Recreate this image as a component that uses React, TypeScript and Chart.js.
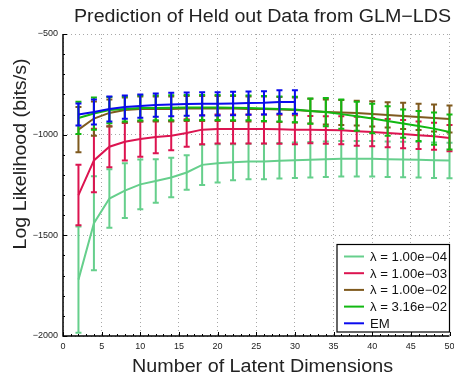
import React, { useEffect, useRef } from "react";
import { Chart, registerables } from "chart.js";

Chart.register(...registerables);

const dims = [2, 4, 6, 8, 10, 12, 14, 16, 18, 20, 22, 24, 26, 28, 30, 32, 34, 36, 38, 40, 42, 44, 46, 48, 50];

const lam1e4 = [-1720, -1440, -1317, -1278, -1247, -1230, -1213, -1188, -1150, -1142, -1137, -1133, -1133, -1130, -1127, -1125, -1122, -1120, -1120, -1120, -1122, -1123, -1125, -1127, -1128];
const lam1e4Err = [264, 233, 145, 136, 124, 108, 98, 86, 100, 95, 90, 88, 88, 88, 88, 88, 88, 88, 88, 88, 88, 88, 88, 88, 88];

const lam1e3 = [-1300, -1128, -1060, -1035, -1022, -1012, -1005, -992, -975, -972, -972, -972, -972, -973, -975, -975, -977, -978, -983, -987, -992, -997, -1003, -1008, -1017];
const lam1e3Err = [150, 158, 102, 93, 88, 80, 73, 68, 72, 72, 72, 72, 72, 72, 72, 68, 68, 70, 72, 70, 70, 70, 68, 67, 65];

const lam1e2 = [-975, -920, -892, -878, -873, -872, -872, -870, -870, -870, -870, -872, -873, -875, -878, -883, -887, -890, -893, -897, -902, -907, -912, -917, -922];
const lam1e2Err = [112, 85, 67, 62, 62, 62, 62, 62, 62, 62, 62, 62, 62, 62, 62, 62, 62, 62, 62, 63, 63, 65, 65, 67, 67];

const lam316e2 = [-917, -895, -878, -872, -868, -867, -866, -865, -865, -865, -866, -867, -870, -872, -875, -883, -888, -898, -908, -920, -932, -945, -957, -970, -987];
const lam316e2Err = [80, 80, 65, 62, 62, 62, 62, 62, 62, 62, 62, 62, 62, 62, 63, 63, 70, 73, 72, 73, 73, 70, 75, 80, 87];

const emDims = [2, 4, 6, 8, 10, 12, 14, 16, 18, 20, 22, 24, 26, 28, 30];
const em = [-900, -887, -872, -863, -858, -853, -850, -848, -847, -847, -845, -843, -842, -838, -838];
const emErr = [55, 62, 62, 58, 58, 58, 58, 58, 58, 58, 58, 58, 58, 58, 58];

const seriesLabels = ["λ = 1.00e−04", "λ = 1.00e−03", "λ = 1.00e−02", "λ = 3.16e−02", "EM"];
const seriesColors = ["#66cf8c", "#dc1450", "#7f5a1e", "#12b812", "#0a0aee"];

const xTicks = [0, 5, 10, 15, 20, 25, 30, 35, 40, 45, 50];
const yTicks = [-2000, -1500, -1000, -500];

const titleText = "Prediction of Held out Data from GLM−LDS";
const xTitle = "Number of Latent Dimensions";
const yTitle = "Log Likelihood (bits/s)";

const FONT = '"Liberation Sans", Arial, Helvetica, sans-serif';

function fitText(ctx: CanvasRenderingContext2D, text: string, x: number, y: number, size: number, width: number, rot: number) {
  ctx.save();
  ctx.font = `${size}px ${FONT}`;
  const w = ctx.measureText(text).width;
  const sx = width / w;
  ctx.translate(x, y);
  ctx.rotate(rot);
  ctx.scale(sx, 1);
  ctx.textAlign = "center";
  ctx.textBaseline = "alphabetic";
  ctx.fillStyle = "#222";
  ctx.fillText(text, 0, 0);
  ctx.restore();
}

const errorBarPlugin = {
  id: "errorBars",
  afterDatasetDraw(chart: any, args: any) {
    const ds = chart.data.datasets[args.index];
    const errs: number[] = ds.errs;
    if (!errs) return;
    const xs = chart.scales.x;
    const ys = chart.scales.y;
    const ctx = chart.ctx;
    ctx.save();
    ctx.strokeStyle = ds.borderColor;
    ctx.lineWidth = 2;
    ds.data.forEach((p: any, i: number) => {
      const px = xs.getPixelForValue(p.x);
      const top = ys.getPixelForValue(p.y + errs[i]);
      const bot = ys.getPixelForValue(p.y - errs[i]);
      ctx.beginPath();
      ctx.moveTo(px, top);
      ctx.lineTo(px, bot);
      ctx.moveTo(px - 3, top);
      ctx.lineTo(px + 3, top);
      ctx.moveTo(px - 3, bot);
      ctx.lineTo(px + 3, bot);
      ctx.stroke();
    });
    ctx.restore();
  },
};

const decorPlugin = {
  id: "decor",
  afterDraw(chart: any) {
    const ctx = chart.ctx;
    const xs = chart.scales.x;
    const ys = chart.scales.y;
    const area = chart.chartArea;
    ctx.save();
    // solid axis lines
    ctx.strokeStyle = "#000";
    ctx.lineWidth = 1.5;
    ctx.beginPath();
    ctx.moveTo(area.left, area.top);
    ctx.lineTo(area.left, area.bottom);
    ctx.lineTo(area.right, area.bottom);
    ctx.stroke();
    // inward ticks
    ctx.lineWidth = 1;
    for (let v = 0; v <= 50; v += 1) {
      const px = Math.round(xs.getPixelForValue(v)) + 0.5;
      const len = v % 5 === 0 ? 4 : 2;
      ctx.beginPath();
      ctx.moveTo(px, area.bottom);
      ctx.lineTo(px, area.bottom - len);
      ctx.stroke();
    }
    for (let v = -2000; v <= -500; v += 100) {
      const py = Math.round(ys.getPixelForValue(v)) + 0.5;
      const len = v % 500 === 0 ? 4 : 2;
      ctx.beginPath();
      ctx.moveTo(area.left, py);
      ctx.lineTo(area.left + len, py);
      ctx.stroke();
    }
    ctx.restore();

    // titles
    fitText(ctx, titleText, 262.5, 21.5, 18, 377, 0);
    fitText(ctx, xTitle, 262.5, 371.5, 17.5, 261, 0);
    fitText(ctx, yTitle, 26, 154, 18, 191, -Math.PI / 2);

    // legend
    const bx = 337, by = 244.5, bw = 112.5, bh = 87.5;
    ctx.save();
    ctx.fillStyle = "#fff";
    ctx.fillRect(bx, by, bw, bh);
    ctx.strokeStyle = "#000";
    ctx.lineWidth = 1.2;
    ctx.strokeRect(bx, by, bw, bh);
    ctx.font = `12px ${FONT}`;
    const sx = 77 / ctx.measureText(seriesLabels[0]).width;
    seriesLabels.forEach((lab, i) => {
      const cy = 256.5 + i * 16.7;
      ctx.strokeStyle = seriesColors[i];
      ctx.lineWidth = 2;
      ctx.beginPath();
      ctx.moveTo(344, cy);
      ctx.lineTo(364, cy);
      ctx.stroke();
      ctx.save();
      ctx.translate(370, cy + 4.3);
      ctx.scale(sx, 1);
      ctx.fillStyle = "#111";
      ctx.textAlign = "left";
      ctx.textBaseline = "alphabetic";
      ctx.fillText(lab, 0, 0);
      ctx.restore();
    });
    ctx.restore();
  },
};

export default function App() {
  const ref = useRef<HTMLCanvasElement | null>(null);
  useEffect(() => {
    if (!ref.current) return;
    const mk = (xsArr: number[], ys: number[]) => xsArr.map((x, i) => ({ x, y: ys[i] }));
    const sets = [
      { data: mk(dims, lam1e4), errs: lam1e4Err, order: 5 },
      { data: mk(dims, lam1e3), errs: lam1e3Err, order: 4 },
      { data: mk(dims, lam1e2), errs: lam1e2Err, order: 3 },
      { data: mk(dims, lam316e2), errs: lam316e2Err, order: 2 },
      { data: mk(emDims, em), errs: emErr, order: 1 },
    ].map((s, i) => ({
      ...s,
      label: seriesLabels[i],
      borderColor: seriesColors[i],
      backgroundColor: seriesColors[i],
      borderWidth: 2,
      pointRadius: 0,
      tension: 0,
      fill: false,
    }));
    const chart = new Chart(ref.current, {
      type: "line",
      data: { datasets: sets as any },
      plugins: [errorBarPlugin, decorPlugin],
      options: {
        animation: false,
        responsive: false,
        layout: { padding: { top: 34, right: 4.5, left: 0, bottom: 0 } },
        plugins: { legend: { display: false }, title: { display: false }, tooltip: { enabled: false } },
        scales: {
          x: {
            type: "linear",
            min: 0,
            max: 50,
            afterBuildTicks: (s: any) => { s.ticks = xTicks.map((v) => ({ value: v })); },
            afterFit: (s: any) => { s.height = 39; s.paddingLeft = 0; s.paddingRight = 0; },
            ticks: { autoSkip: false, maxRotation: 0, padding: 5, color: "#222", font: { size: 9, family: FONT } },
            grid: { color: "#a8a8a8", lineWidth: 1, drawTicks: false },
            border: { display: false, dash: [1, 3] },
          },
          y: {
            type: "linear",
            min: -2000,
            max: -500,
            afterBuildTicks: (s: any) => { s.ticks = yTicks.map((v) => ({ value: v })); },
            afterFit: (s: any) => { s.width = 63; s.paddingTop = 0; s.paddingBottom = 0; },
            ticks: {
              padding: 5,
              color: "#222",
              font: { size: 9, family: FONT },
              callback: (v: any) => String(v).replace("-", "−"),
            },
            grid: { color: "#a8a8a8", lineWidth: 1, drawTicks: false },
            border: { display: false, dash: [1, 3] },
          },
        },
      },
    });
    return () => chart.destroy();
  }, []);
  return (
    <div style={{ position: "fixed", left: 0, top: 0, width: 454, height: 375, background: "#fff" }}>
      <canvas ref={ref} width={454} height={375} style={{ display: "block" }} />
    </div>
  );
}
